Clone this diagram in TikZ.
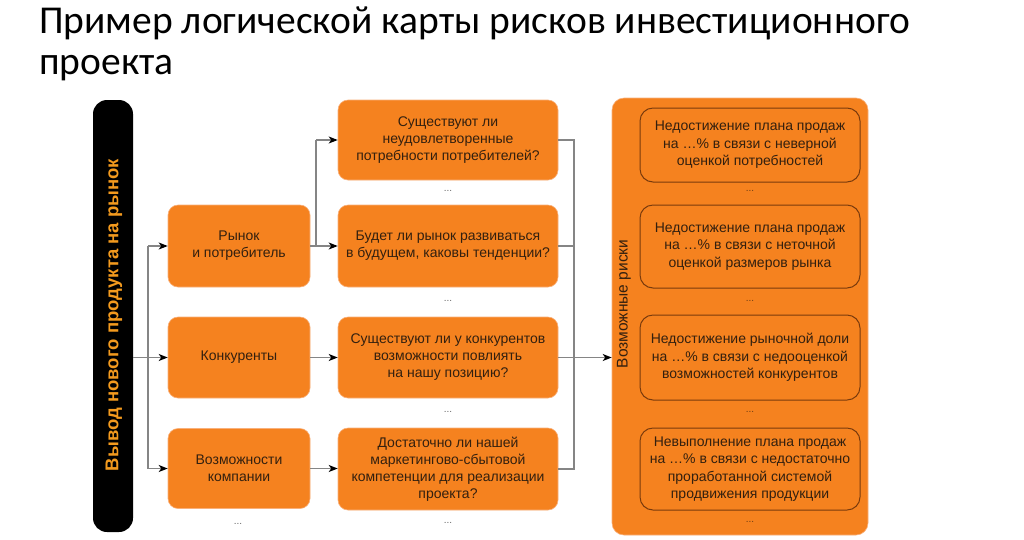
\documentclass[tikz,border=0pt]{standalone}
\usepackage{fontspec}
\setmainfont{Liberation Sans}
\newfontfamily\titlefont{Carlito}
\usetikzlibrary{arrows.meta}
\definecolor{orfill}{HTML}{F5821F}
\definecolor{orline}{HTML}{F9B07A}
\definecolor{brownline}{HTML}{7A3A0C}
\definecolor{txt}{HTML}{33200F}
\definecolor{barText}{HTML}{F39A1E}
\definecolor{conn}{HTML}{858585}
\begin{document}
\begin{tikzpicture}[x=1pt,y=-1pt,
  box/.style={fill=orfill, draw=orline, line width=0.6pt, rounded corners=10pt, text=txt, align=center,
    font=\fontsize{14}{17}\selectfont, inner sep=2pt},
  innerbox/.style={draw=brownline, line width=1pt, rounded corners=13pt, text=txt, align=center,
    font=\fontsize{14}{17.5}\selectfont, inner sep=2pt, minimum width=220pt},
  conline/.style={draw=conn, line width=1.3pt},
  arr/.style={conline, -{Stealth[length=9pt,width=7pt,inset=2.5pt,color=black]}},
  dotsnode/.style={text=conn!80!black, font=\fontsize{10}{10}\selectfont, inner sep=0pt}
]
\useasboundingbox (0,0) rectangle (1024,539);
\fill[white] (0,0) rectangle (1024,539);

% title
\node[anchor=base west, inner sep=0pt, font=\titlefont\fontsize{39.5}{44}\selectfont] (title1) at (39,33) {Пример логической карты рисков инвестиционного};
\node[anchor=base west, inner sep=0pt, font=\titlefont\fontsize{39.5}{44}\selectfont] (title2) at (39,74) {проекта};

% black bar
\node[fill=black, rounded corners=14pt, minimum width=40pt, minimum height=432pt, inner sep=0pt] (bar) at (113,316) {};
\node[rotate=90, text=barText, font=\bfseries\fontsize{18.5}{20}\selectfont, inner sep=0pt] (bartext) at (114,315) {Вывод нового продукта на рынок};

% left boxes
\node[box, minimum width=142pt, minimum height=82pt] (b1) at (239,246) {Рынок\\и потребитель};
\node[box, minimum width=142pt, minimum height=81pt] (b2) at (239,357.5) {Конкуренты};
\node[box, minimum width=142pt, minimum height=80pt] (b3) at (239,468.5) {Возможности\\компании};
\node[dotsnode] (d0) at (238,524) {...};

% middle boxes
\node[box, minimum width=220pt, minimum height=80pt] (qa) at (448,140) {Существуют ли\\неудовлетворенные\\потребности потребителей?};
\node[box, minimum width=220pt, minimum height=82pt] (qb) at (448,246) {Будет ли рынок развиваться\\в будущем, каковы тенденции?};
\node[box, minimum width=220pt, minimum height=81pt] (qc) at (448,357.5) {Существуют ли у конкурентов\\возможности повлиять\\на нашу позицию?};
\node[box, minimum width=220pt, minimum height=82pt] (qd) at (448,469) {Достаточно ли нашей\\маркетингово-сбытовой\\компетенции для реализации\\проекта?};
\node[dotsnode] (d1) at (448,191) {...};
\node[dotsnode] (d2) at (448,301) {...};
\node[dotsnode] (d3) at (448,412) {...};
\node[dotsnode] (d4) at (448,523) {...};

% right big box
\node[fill=orfill, draw=orline, line width=0.6pt, rounded corners=12pt, minimum width=256pt, minimum height=437pt, inner sep=0pt] (risks) at (740,316.5) {};
\node[rotate=90, text=txt, font=\fontsize{15.5}{17}\selectfont, inner sep=0pt] (riskstext) at (624,304) {Возможные риски};
\node[innerbox, minimum height=74pt] (r1) at (750,145) {Недостижение плана продаж\\на \dots\% в связи с неверной\\оценкой потребностей};
\node[innerbox, minimum height=83pt] (r2) at (750,246.5) {Недостижение плана продаж\\на \dots\% в связи с неточной\\оценкой размеров рынка};
\node[innerbox, minimum height=85pt] (r3) at (750,357.5) {Недостижение рыночной доли\\на \dots\% в связи с недооценкой\\возможностей конкурентов};
\node[innerbox, minimum height=82pt] (r4) at (750,469) {Невыполнение плана продаж\\на \dots\% в связи с недостаточно\\проработанной системой\\продвижения продукции};
\node[dotsnode, text=txt!70!orfill] (e1) at (750,191) {...};
\node[dotsnode, text=txt!70!orfill] (e2) at (750,301) {...};
\node[dotsnode, text=txt!70!orfill] (e3) at (750,412) {...};
\node[dotsnode, text=txt!70!orfill] (e4) at (750,522) {...};

% connectors: bar -> left boxes
\coordinate (t1) at (148,0);
\draw[arr] (bar.east |- b2.west) -- (b2.west);
\draw[conline] (t1 |- b1.west) -- (t1 |- b3.west);
\draw[arr] (t1 |- b1.west) -- (b1.west);
\draw[arr] (t1 |- b3.west) -- (b3.west);

% left -> middle
\coordinate (t2) at (316,0);
\draw[conline] (b1.east) -- (t2 |- b1.east);
\draw[conline] (t2 |- qa.west) -- (t2 |- qb.west);
\draw[arr] (t2 |- qa.west) -- (qa.west);
\draw[arr] (t2 |- qb.west) -- (qb.west);
\draw[arr] (b2.east) -- (b2.east -| qc.west);
\draw[arr] (b3.east) -- (b3.east -| qd.west);

% middle -> risks
\coordinate (t3) at (574,0);
\draw[conline] (qa.east) -- (t3 |- qa.east) -- (t3 |- qd.east) -- (qd.east);
\draw[conline] (qb.east) -- (t3 |- qb.east);
\draw[arr] (qc.east) -- (qc.east -| risks.west);
\end{tikzpicture}
\end{document}
